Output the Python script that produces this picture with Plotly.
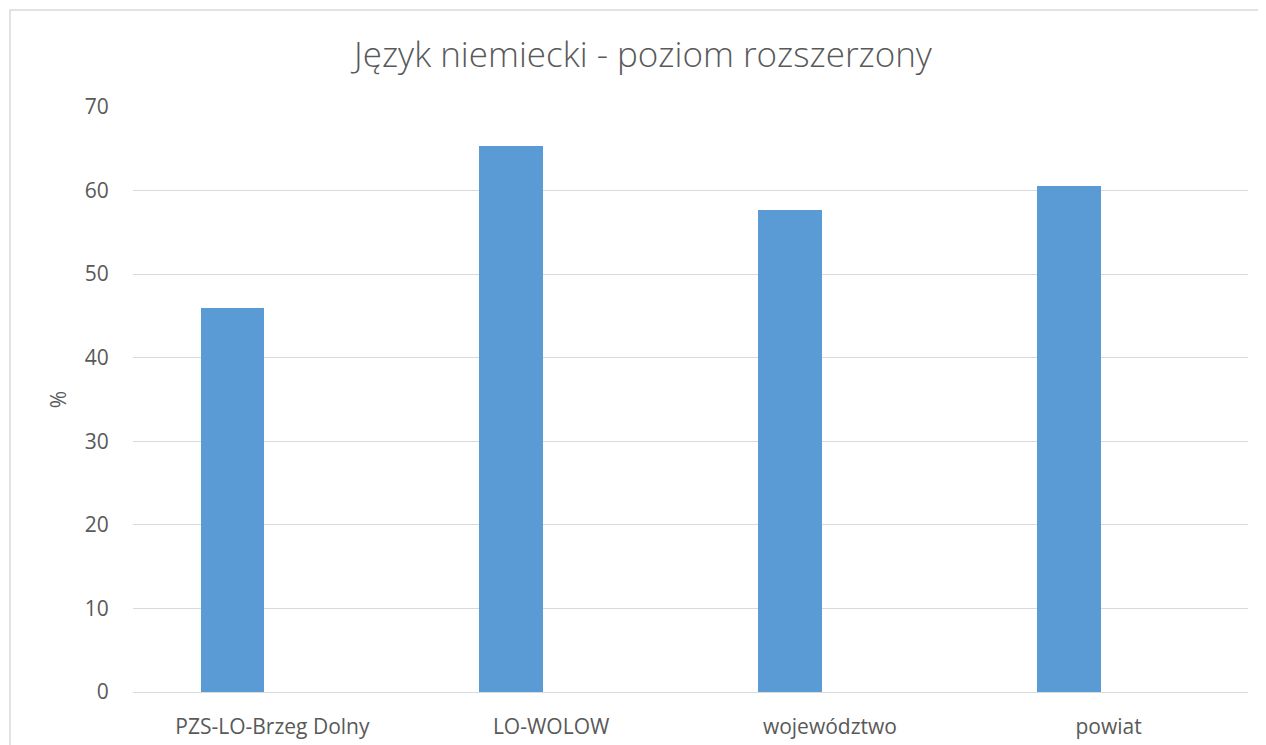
import plotly.graph_objects as go

categories = ["PZS-LO-Brzeg Dolny", "LO-WOLOW", "województwo", "powiat"]
values = [45.9, 65.3, 57.7, 60.5]
y_ticks = [0, 10, 20, 30, 40, 50, 60, 70]

text_color = "#595959"
grid_color = "#d9d9d9"

# page body has an 8px margin, so the plot area is placed with that in mind
L, T, PW, PH = 125, 99, 1115, 585

fig = go.Figure(
    go.Bar(
        x=categories,
        y=values,
        marker=dict(color="#5b9bd5", line=dict(width=0)),
        width=0.228,
        offset=-0.257,
    )
)

fig.update_layout(
    width=1266,
    height=745,
    margin=dict(l=L, r=1266 - L - PW, t=T, b=745 - T - PH),
    paper_bgcolor="white",
    plot_bgcolor="white",
    showlegend=False,
    font=dict(family="Open Sans", color=text_color, size=21),
    title=dict(
        text="Język niemiecki - poziom rozszerzony",
        x=0.5016,
        xanchor="center",
        y=0.937,
        yanchor="middle",
        font=dict(size=35, color=text_color, family="Open Sans", weight=300),
    ),
    bargap=0,
)

fig.update_xaxes(
    range=[-0.5, 3.5],
    showgrid=False,
    showline=True,
    linecolor=grid_color,
    linewidth=1,
    ticks="outside",
    ticklen=16,
    tickcolor="rgba(0,0,0,0)",
    tickfont=dict(size=21, color=text_color),
)

fig.update_yaxes(
    range=[0, 70],
    tickvals=y_ticks,
    showgrid=True,
    gridcolor=grid_color,
    gridwidth=1,
    zeroline=False,
    ticks="outside",
    ticklen=19,
    tickcolor="rgba(0,0,0,0)",
    tickfont=dict(size=21, color=text_color),
    title=dict(text="%", font=dict(size=21, color=text_color), standoff=12),
)

# chart border like the spreadsheet export
fig.add_shape(
    type="rect",
    xref="paper",
    yref="paper",
    x0=(2 - L) / PW,
    x1=(1255 - L) / PW,
    y0=-0.2,
    y1=(T + PH - 2) / PH,
    line=dict(color=grid_color, width=1.5),
    layer="below",
)

fig.write_html("out.html")
